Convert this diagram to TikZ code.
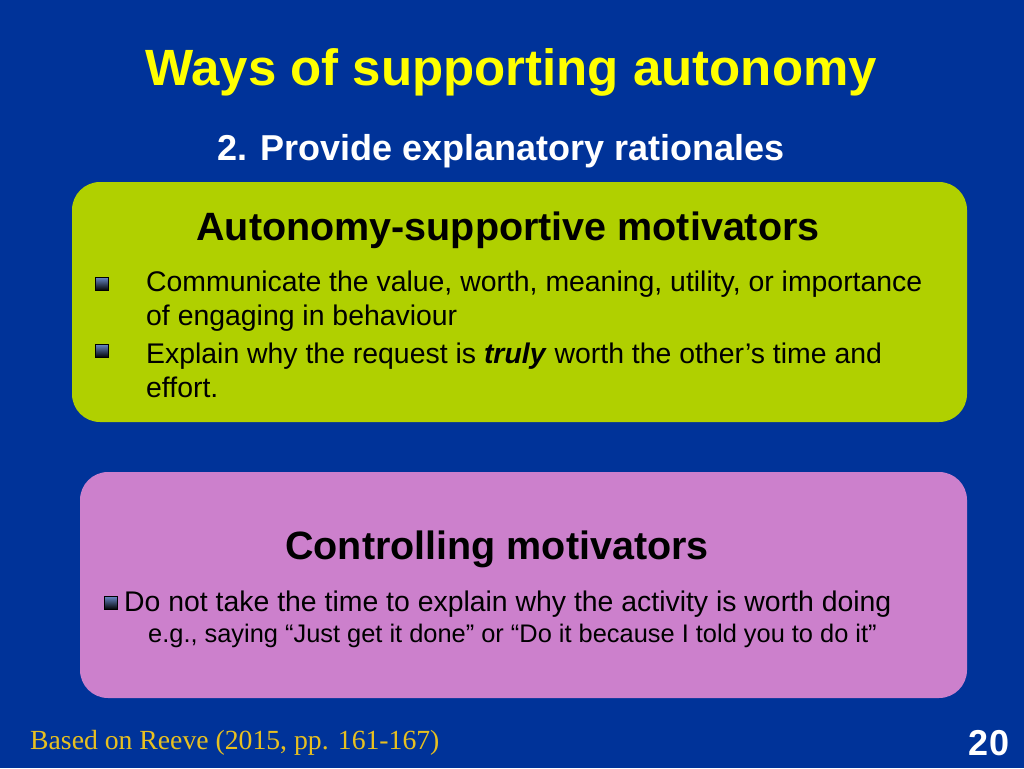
\documentclass[tikz,border=0pt]{standalone}
\usepackage{fontspec}
\setmainfont{Liberation Sans}
\newfontfamily\serifit{Liberation Serif}
\definecolor{bg}{HTML}{003399}
\definecolor{gbox}{HTML}{B0D000}
\definecolor{pbox}{HTML}{CC80CC}
\definecolor{gold}{HTML}{E8C020}
\definecolor{ttl}{HTML}{FFFF00}
\tikzset{
  panel/.style={rounded corners=28pt},
  txt/.style={anchor=west,inner sep=0pt,font=\fontsize{28.4}{34}\selectfont,align=left},
  bul/.style={draw=black,line width=0.6pt,top color=bg!60!white,bottom color=black,minimum size=13pt,inner sep=0pt}
}
\begin{document}
\begin{tikzpicture}[x=1pt,y=-1pt]
\fill[bg] (0,0) rectangle (1024,768);
\useasboundingbox (0,0) rectangle (1024,768);
\node[font=\fontsize{51}{56}\selectfont\bfseries,text=ttl] (title) at (511,72) {Ways of supporting autonomy};
\node[font=\fontsize{36}{40}\selectfont\bfseries,text=white] (sub) at (501,151) {2. Provide explanatory rationales};
\fill[gbox,panel] (72,182) rectangle (967,422);
\node[font=\fontsize{39.5}{44}\selectfont\bfseries] (h1) at (508,230) {Autonomy-supportive motivators};
\node[bul] (b1) at (102,284) {};
\node[txt] (t1) at (146,301) {Communicate the value, worth, meaning, utility, or importance\\of engaging in behaviour};
\node[bul] (b2) at (102,351) {};
\node[txt] (t2) at (146,370) {Explain why the request is \textbf{\textit{truly}} worth the other{\char39}s time and\\effort.};
\fill[pbox,panel] (80,472) rectangle (967,698);
\node[font=\fontsize{39.5}{44}\selectfont\bfseries] (h2) at (497,549) {Controlling motivators};
\node[bul] (b3) at (111,603) {};
\node[txt] (t3) at (124,604) {Do not take the time to explain why the activity is worth doing};
\node[txt,font=\fontsize{25.4}{30}\selectfont] (t4) at (148,636) {e.g., saying “Just get it done” or “Do it because I told you to do it”};
\node[anchor=west,inner sep=0pt,text=gold,font=\serifit\fontsize{27.7}{32}\selectfont] (src) at (30,743) {Based on Reeve (2015, pp. 161-167)};
\node[text=white,font=\fontsize{36}{40}\selectfont\bfseries] (num) at (989,743) {20};
\end{tikzpicture}
\end{document}
